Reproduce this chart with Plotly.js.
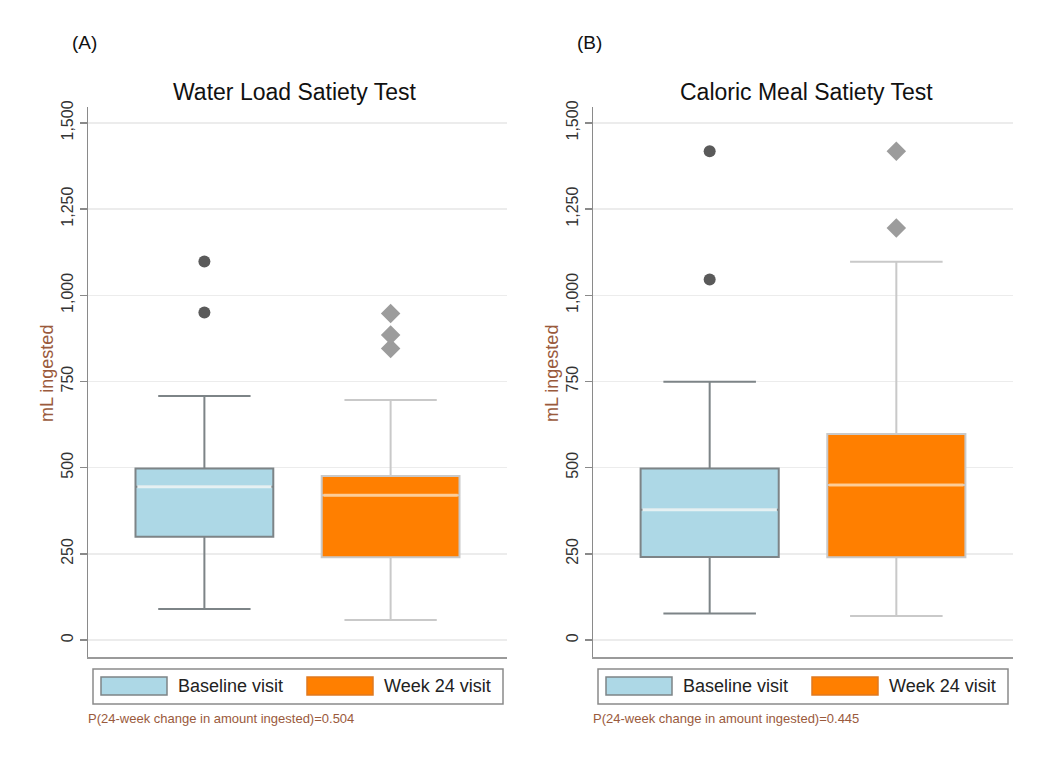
<!DOCTYPE html>
<html>
<head>
<meta charset="utf-8">
<script src="https://cdn.plot.ly/plotly-3.0.1.min.js"></script>
<style>html,body{margin:0;padding:0;background:#fff;}#chart{width:1050px;height:764px;}</style>
</head>
<body>
<div id="chart"></div>
<script>
// ---- data ----
const categories = ['Baseline visit', 'Week 24 visit'];
const panelTitles = ['Water Load Satiety Test', 'Caloric Meal Satiety Test'];
const panelLabels = ['(A)', '(B)'];
const yAxisTitle = 'mL ingested';
const pValues = ['0.504', '0.445'];
const yTicks = [0, 250, 500, 750, 1000, 1250, 1500];

// Water load satiety test (panel A): [baseline, week 24]
const waterLowerFence = [90, 58];
const waterQ1 = [300, 240];
const waterMedian = [445, 420];
const waterQ3 = [498, 476];
const waterUpperFence = [708, 696];
const waterOutliersBaseline = [950, 1098];
const waterOutliersWeek24 = [846, 885, 947];

// Caloric meal satiety test (panel B): [baseline, week 24]
const mealLowerFence = [77, 70];
const mealQ1 = [241, 240];
const mealMedian = [378, 450];
const mealQ3 = [498, 598];
const mealUpperFence = [749, 1097];
const mealOutliersBaseline = [1046, 1418];
const mealOutliersWeek24 = [1195, 1418];

// ---- styling ----
const W = 1050, H = 764;
const boxWidth = 0.74;
const fills = ['#ADD8E6', '#FF7F00'];
const lineCols = ['#7d8487', '#c9c9c9'];
const outlierStyle = [
  {symbol: 'circle', color: '#5a5a5a', size: 12},
  {symbol: 'diamond', color: '#9c9c9c', size: 15}
];
const medianCols = ['rgba(235,245,248,0.95)', 'rgba(255,205,150,0.95)'];
const noteColor = '#9a5a3c';
const FONT = 'Liberation Sans, Arial, sans-serif';

const panels = [
  {lf: waterLowerFence, q1: waterQ1, med: waterMedian, q3: waterQ3, uf: waterUpperFence,
   out: [waterOutliersBaseline, waterOutliersWeek24], xa: 'x', ya: 'y', xdom: [88, 507]},
  {lf: mealLowerFence, q1: mealQ1, med: mealMedian, q3: mealQ3, uf: mealUpperFence,
   out: [mealOutliersBaseline, mealOutliersWeek24], xa: 'x2', ya: 'y2', xdom: [593, 1013]}
];

const traces = [];
const shapes = [];
const annotations = [];

panels.forEach((p, pi) => {
  categories.forEach((c, ci) => {
    traces.push({
      type: 'box', name: c, x: [ci],
      q1: [p.q1[ci]], median: [p.med[ci]], q3: [p.q3[ci]],
      lowerfence: [p.lf[ci]], upperfence: [p.uf[ci]],
      width: boxWidth, whiskerwidth: 0.67,
      fillcolor: fills[ci], line: {color: lineCols[ci], width: 2},
      boxpoints: false, hoverinfo: 'skip',
      xaxis: p.xa, yaxis: p.ya, showlegend: false
    });
    traces.push({
      type: 'scatter', mode: 'markers', name: c,
      x: p.out[ci].map(() => ci), y: p.out[ci],
      marker: {symbol: outlierStyle[ci].symbol, color: outlierStyle[ci].color, size: outlierStyle[ci].size},
      xaxis: p.xa, yaxis: p.ya, showlegend: false, hoverinfo: 'skip'
    });
    // lighter median line
    shapes.push({
      type: 'line', xref: p.xa, yref: p.ya, layer: 'above',
      x0: ci - boxWidth / 2 + 0.01, x1: ci + boxWidth / 2 - 0.01,
      y0: p.med[ci], y1: p.med[ci],
      line: {color: medianCols[ci], width: 3}
    });
  });

  const x0 = p.xdom[0];
  // panel label and title
  annotations.push({xref: 'paper', yref: 'paper', x: (x0 - 4) / W, y: 1 - 42 / H,
    xanchor: 'center', yanchor: 'middle', showarrow: false, text: panelLabels[pi],
    font: {family: FONT, size: 19, color: '#111'}});
  annotations.push({xref: 'paper', yref: 'paper', x: (p.xdom[0] + p.xdom[1]) / 2 / W + (pi === 0 ? -0.002 : 0.003), y: 1 - 92 / H,
    xanchor: 'center', yanchor: 'middle', showarrow: false, text: panelTitles[pi],
    font: {family: FONT, size: 23, color: '#111'}});
  // y-axis title
  annotations.push({xref: 'paper', yref: 'paper', x: (x0 - 41) / W, y: 1 - 374 / H,
    xanchor: 'center', yanchor: 'middle', showarrow: false, text: yAxisTitle, textangle: -90,
    font: {family: FONT, size: 18, color: noteColor}});
  // legend
  const lx = x0 + 5;
  shapes.push({type: 'rect', xref: 'paper', yref: 'paper',
    x0: lx / W, x1: (lx + 410) / W, y0: 1 - 704 / H, y1: 1 - 669 / H,
    line: {color: '#8a8a8a', width: 1.5}, fillcolor: 'rgba(0,0,0,0)'});
  const swatchX = [lx + 8, lx + 214];
  categories.forEach((c, ci) => {
    shapes.push({type: 'rect', xref: 'paper', yref: 'paper',
      x0: swatchX[ci] / W, x1: (swatchX[ci] + 66) / W, y0: 1 - 695 / H, y1: 1 - 677 / H,
      line: {color: ci === 0 ? '#7d8487' : '#e07a20', width: 1.5}, fillcolor: fills[ci]});
    annotations.push({xref: 'paper', yref: 'paper', x: (swatchX[ci] + 75) / W, y: 1 - 686 / H,
      xanchor: 'left', yanchor: 'middle', showarrow: false, text: c,
      font: {family: FONT, size: 18, color: '#222'}});
  });
  // note
  annotations.push({xref: 'paper', yref: 'paper', x: (x0 - 2) / W, y: 1 - 718 / H,
    xanchor: 'left', yanchor: 'middle', showarrow: false,
    text: 'P(24-week change in amount ingested)=' + pValues[pi],
    font: {family: FONT, size: 13, color: noteColor}});
});

const yDomain = [1 - 657 / H, 1 - 107 / H];
function xAxis(dom) {
  return {domain: [dom[0] / W, dom[1] / W], range: [-0.625, 1.625], showticklabels: false,
    ticks: '', showgrid: false, zeroline: false, showline: true, linecolor: '#9a9a9a',
    linewidth: 2, fixedrange: true};
}
function yAxis(anchor) {
  return {domain: yDomain, range: [-49, 1546], anchor: anchor, tickvals: yTicks, tickformat: ',',
    tickangle: -90, ticks: 'outside', ticklen: 7, tickcolor: '#8a8a8a', tickwidth: 1.5,
    showline: true, linecolor: '#8a8a8a', linewidth: 1.5, gridcolor: '#ececec', gridwidth: 1.5,
    zeroline: false, fixedrange: true,
    tickfont: {family: FONT, size: 16, color: '#333'}};
}

const layout = {
  width: W, height: H, margin: {l: 0, r: 0, t: 0, b: 0},
  paper_bgcolor: '#fff', plot_bgcolor: '#fff', showlegend: false,
  boxmode: 'overlay',
  xaxis: Object.assign(xAxis(panels[0].xdom), {anchor: 'y'}),
  yaxis: yAxis('x'),
  xaxis2: Object.assign(xAxis(panels[1].xdom), {anchor: 'y2'}),
  yaxis2: yAxis('x2'),
  shapes: shapes, annotations: annotations
};

Plotly.newPlot('chart', traces, layout, {staticPlot: true, displayModeBar: false});
</script>
</body>
</html>
